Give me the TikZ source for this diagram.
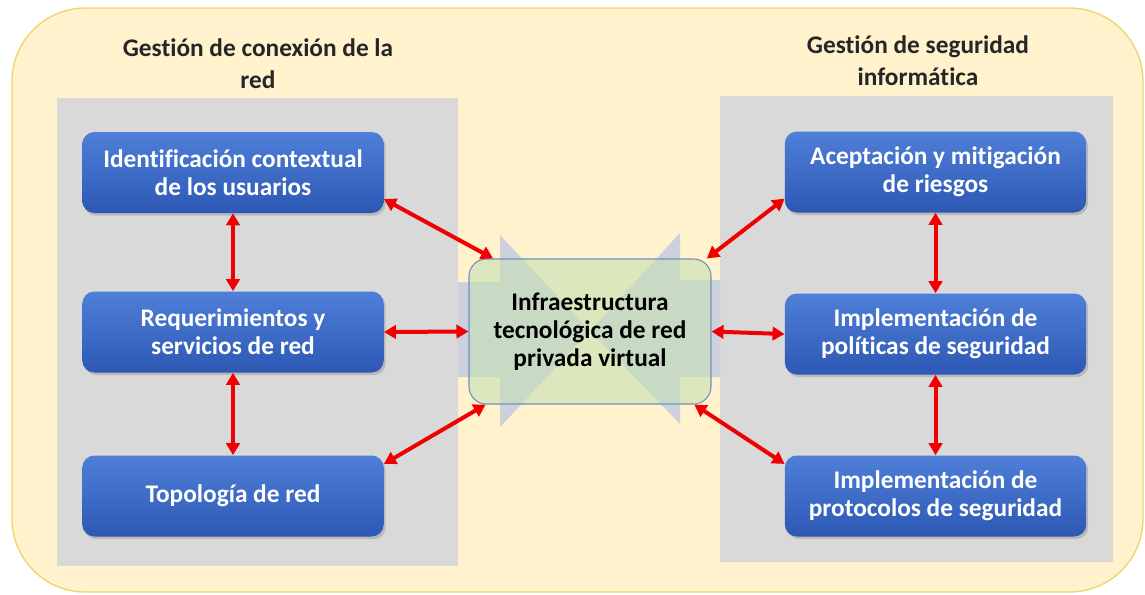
\documentclass[tikz,border=0pt]{standalone}
\usepackage{fontspec}
\setmainfont[Ligatures=NoCommon]{Carlito}
\usepackage{xcolor}
\usepackage{tikz}
\usetikzlibrary{arrows.meta, positioning, shadows}
\definecolor{frame-fill}{HTML}{FFF2CC}
\definecolor{frame-line}{HTML}{EFD46A}
\definecolor{panel-gray}{HTML}{D9D9D9}
\definecolor{item-top}{HTML}{4F7FD8}
\definecolor{item-bot}{HTML}{2C58B4}
\definecolor{vpn-fill}{HTML}{C6E0B4}
\definecolor{vpn-line}{HTML}{7090C0}
\definecolor{wing-fill}{HTML}{CCD1DB}
\definecolor{link-red}{HTML}{F00000}

\begin{document}
\begin{tikzpicture}[x=0.75pt, y=-0.75pt,
    item/.style={rectangle, rounded corners=9pt,
                minimum width=226pt, minimum height=60.75pt,
                top color=item-top, bottom color=item-bot,
                drop shadow={shadow xshift=1.5pt, shadow yshift=-2pt, opacity=0.35},
                align=center, font=\bfseries\fontsize{19}{21}\selectfont, text=white},
    heading/.style={align=center, font=\bfseries\fontsize{19}{24}\selectfont, text=black!85},
    arr/.style={{Triangle[length=9pt,width=10pt]}-{Triangle[length=9pt,width=10pt]},
                line width=3pt, color=link-red}
  ]
    \useasboundingbox (0,0) rectangle (1145,594);
    % frame and panels
    \draw[fill=frame-fill, draw=frame-line, line width=1pt, rounded corners=55pt]
      (12,8) rectangle (1143,592);
    \fill[panel-gray] (57,98) rectangle (458,566);
    \fill[panel-gray] (720,96) rectangle (1113,562);
    \node[heading] (lefthead)  at (258,64) {Gestión de conexión de la\\red};
    \node[heading] (righthead) at (918,61) {Gestión de seguridad\\informática};

    % wings behind the centre
    \fill[wing-fill] (458,282) -- (500,282) -- (500,235) -- (590,331)
      -- (500,427) -- (500,377) -- (458,377) -- cycle;
    \fill[wing-fill] (720,280) -- (680,280) -- (680,233) -- (590,331)
      -- (680,424) -- (680,377) -- (720,377) -- cycle;
    \node[rectangle, rounded corners=13pt, minimum width=181.5pt, minimum height=108.75pt,
          fill=vpn-fill, fill opacity=0.6, text opacity=1, draw=vpn-line, line width=0.8pt,
          align=center, font=\bfseries\fontsize{19}{21}\selectfont, text=black]
      (vpn) at (590,331.5) {Infraestructura\\tecnológica de red\\privada virtual};

    % left column
    \node[item] (ident)  at (233,172.5) {Identificación contextual\\de los usuarios};
    \node[item] (reqs)   at (233,332)   {Requerimientos y\\servicios de red};
    \node[item] (topo)   at (233,496)   {Topología de red};
    % right column
    \node[item] (risk)   at (935.5,172) {Aceptación y mitigación\\de riesgos};
    \node[item] (policy) at (935.5,334) {Implementación de\\políticas de seguridad};
    \node[item] (proto)  at (935.5,496) {Implementación de\\protocolos de seguridad};

    % links
    \draw[arr] (ident.-10) -- (vpn.143);
    \draw[arr] (reqs.east) -- (vpn.west);
    \draw[arr] (topo.12) -- (vpn.215);
    \draw[arr] (ident.south) -- (reqs.north);
    \draw[arr] (reqs.south) -- (topo.north);
    \draw[arr] (vpn.32) -- (risk.190);
    \draw[arr] (vpn.east) -- (policy.west);
    \draw[arr] (vpn.-35) -- (proto.168);
    \draw[arr] (risk.south) -- (policy.north);
    \draw[arr] (policy.south) -- (proto.north);
  \end{tikzpicture}
\end{document}
